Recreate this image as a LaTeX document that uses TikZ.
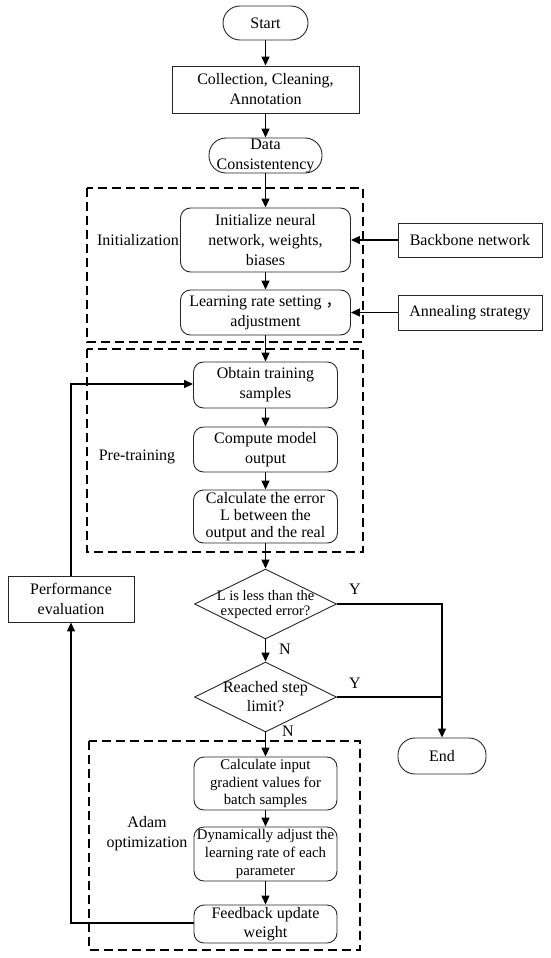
\documentclass[tikz,border=0pt]{standalone}
\usepackage{fontspec}
\setmainfont{Liberation Serif}
\newfontfamily\cjk{Noto Sans CJK SC}
\usetikzlibrary{shapes.geometric,arrows.meta}
\begin{document}
\begin{tikzpicture}[x=1pt,y=-1pt,
  base/.style={draw=black!85, line width=0.9pt, align=center, inner sep=0pt,
    font=\fontsize{16}{20}\selectfont},
  sqbox/.style={base, rectangle},
  rbox/.style={base, rectangle, rounded corners=10pt},
  term/.style={base, rectangle, rounded corners=17pt},
  dia/.style={draw=black!85, line width=0.9pt, diamond, inner sep=0pt,
    minimum width=142pt, minimum height=70pt},
  grp/.style={draw=black, line width=1.3pt, dash pattern=on 9pt off 5pt},
  conn/.style={line width=1.3pt, -{Triangle[length=9pt,width=8pt]}},
  plain/.style={line width=1.3pt},
  lab/.style={align=center, inner sep=0pt, font=\fontsize{16}{20}\selectfont}
]
\useasboundingbox (0,0) rectangle (550,958);

% group frames
\draw[grp] (87,188) rectangle (363,342);
\draw[grp] (87,349) rectangle (363,552);
\draw[grp] (89,741) rectangle (360,950);

% nodes
\node[term, minimum width=85pt, minimum height=34pt] (start) at (265.5,23) {Start};
\node[sqbox, minimum width=187pt, minimum height=47pt] (collect) at (265.5,89.5) {Collection, Cleaning,\\Annotation};
\node[term, minimum width=113pt, minimum height=35pt] (data) at (265.5,155.5) {Data\\Consistentency};

\node[rbox, minimum width=170pt, minimum height=64pt] (init) at (265.5,240) {Initialize neural\\network, weights,\\biases};
\node[rbox, minimum width=170pt, minimum height=45pt] (lr) at (265.5,312.5) {Learning rate setting {\cjk ，}\\adjustment};
\node[sqbox, minimum width=144pt, minimum height=34pt] (backbone) at (470,240) {Backbone network};
\node[sqbox, minimum width=144pt, minimum height=35pt] (anneal) at (470,312.5) {Annealing strategy};
\node[lab] (initlab) at (138,240) {Initialization};

\node[rbox, minimum width=144pt, minimum height=46pt] (obtain) at (265.5,385) {Obtain training\\samples};
\node[rbox, minimum width=144pt, minimum height=45pt] (compute) at (265.5,449.5) {Compute model\\output};
\node[rbox, minimum width=144pt, minimum height=53pt, font=\fontsize{16}{16.7}\selectfont] (calcerr) at (265.5,516.5) {Calculate the error\\L between the\\output and the real};
\node[lab] (prelab) at (137,457) {Pre-training};

\node[dia] (d1) at (265.5,604) {};
\node[lab, font=\fontsize{14.5}{15}\selectfont] (d1t) at (265.5,605) {L is less than the\\expected error?};
\node[dia] (d2) at (265.5,697) {};
\node[lab, font=\fontsize{16}{19}\selectfont] (d2t) at (265.5,697) {Reached step\\limit?};

\node[sqbox, minimum width=126pt, minimum height=46pt] (perf) at (71,599) {Performance\\evaluation};
\node[term, minimum width=88pt, minimum height=36pt] (end) at (442,756) {End};

\node[rbox, minimum width=143pt, minimum height=53pt, font=\fontsize{14.8}{17.7}\selectfont] (calcin) at (265.5,783.5) {Calculate input\\gradient values for\\batch samples};
\node[rbox, minimum width=143pt, minimum height=54pt, font=\fontsize{14.8}{17.7}\selectfont] (dyn) at (265.5,854) {Dynamically adjust the\\learning rate of each\\parameter};
\node[rbox, minimum width=143pt, minimum height=38pt, font=\fontsize{16}{19}\selectfont] (feed) at (265.5,924) {Feedback update\\weight};
\node[lab] (adamlab) at (147,834) {Adam\\optimization};

% labels
\node[lab] (y1) at (355,589) {Y};
\node[lab] (y2) at (355,683) {Y};
\node[lab] (n1) at (285,649) {N};
\node[lab] (n2) at (288,731) {N};

% corner coordinates
\coordinate (c1) at (442,604);
\coordinate (c2) at (442,697);
\coordinate (c3) at (71,923);
\coordinate (c4) at (71,384);

% connectors
\draw[conn] (start) -- (collect);
\draw[conn] (collect) -- (data);
\draw[conn] (data) -- (init);
\draw[conn] (init) -- (lr);
\draw[conn] (lr) -- (obtain);
\draw[conn] (backbone) -- (init);
\draw[conn] (anneal) -- (lr);
\draw[conn] (obtain) -- (compute);
\draw[conn] (compute) -- (calcerr);
\draw[conn] (calcerr) -- (d1);
\draw[conn] (d1) -- (d2);
\draw[conn] (d2) -- (calcin);
\draw[conn] (calcin) -- (dyn);
\draw[conn] (dyn) -- (feed);
\draw[conn] (d1.east) -- (c1) -- (end.north);
\draw[plain] (d2.east) -- (c2);
\draw[conn] (feed.west |- c3) -- (c3) -- (perf.south);
\draw[conn] (perf.north) -- (c4) -- (obtain.west |- c4);
\end{tikzpicture}
\end{document}
